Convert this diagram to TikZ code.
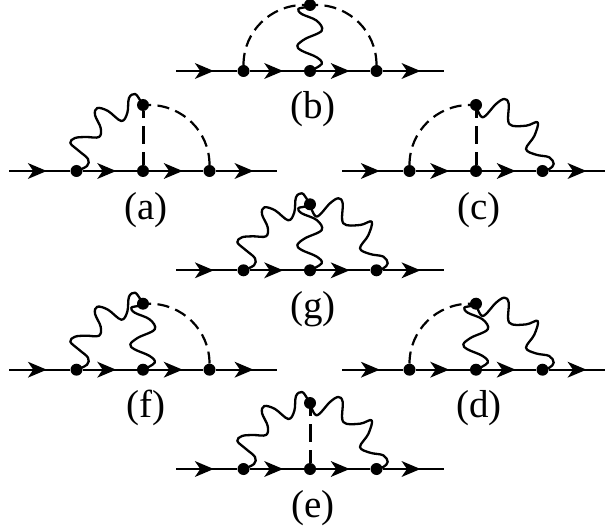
\documentclass[tikz,border=0pt]{standalone}
\usepackage{fontspec}
\setmainfont{Liberation Serif}
\usetikzlibrary{decorations.markings}
\tikzset{
  vertexdot/.style={circle,fill=black,draw=none,inner sep=0pt,minimum size=12pt},
  fermion/.style={line width=2.3pt,postaction={decorate},decoration={markings,mark=at position 0.6 with {\fill[black,draw=none] (1,0) -- (-18,8) -- (-12.5,0) -- (-18,-8) -- cycle;}}},
  scalarline/.style={line width=2.2pt,dash pattern=on 12pt off 6.5pt},
  scalarvert/.style={line width=3pt,dash pattern=on 13pt off 8pt on 18pt off 8pt on 20pt off 8pt},
  wave/.style={line width=2.3pt,line join=round},
  caption/.style={font=\fontsize{39}{42}\selectfont,anchor=base,inner sep=0pt}
}
% #1 prefix, #2 x, #3 y, #4 caption
\newcommand{\feynbase}[4]{%
  \coordinate (#1in) at (#2-134,#3);
  \coordinate (#1out) at (#2+134,#3);
  \node[vertexdot] (#1l) at (#2-66.5,#3) {};
  \node[vertexdot] (#1c) at (#2,#3) {};
  \node[vertexdot] (#1r) at (#2+66.5,#3) {};
  \node[vertexdot] (#1t) at (#2,#3+66) {};
  \draw[fermion] (#1in) -- (#1l);
  \draw[fermion] (#1l) -- (#1c);
  \draw[fermion] (#1c) -- (#1r);
  \draw[fermion] (#1r) -- (#1out);
  \node[caption] (#1cap) at (#2+3,#3-48) {#4};
}
\newcommand{\arcleft}[1]{\draw[scalarline] (#1l) to[out=90,in=180] (#1t);}
\newcommand{\arcright}[1]{\draw[scalarline] (#1r) to[out=90,in=0] (#1t);}
\newcommand{\vertdash}[1]{\draw[scalarvert] (#1c) -- (#1t);}
\newcommand{\waveleft}[1]{\begin{scope}[shift={(#1c)}]\draw[wave] plot[smooth,tension=0.6] coordinates {(-66.5,0) (-56,5) (-55,12) (-64,20) (-72.7,28) (-68,33) (-57,34) (-44,34) (-42.3,43) (-48,56) (-45.7,63) (-35,60) (-21.7,50) (-15.7,58) (-14,73) (-8,77) (-3,71) (0,66)};\end{scope}}
\newcommand{\waveright}[1]{\begin{scope}[shift={(#1c)}]\draw[wave] plot[smooth,tension=0.6] coordinates {(0,66) (6.7,53.7) (20,67) (28.3,72) (32.7,67) (33.3,47) (50,45.3) (61.7,48.7) (58.3,35) (50,22) (60,16.3) (73.3,13.7) (77.7,7) (73.3,2) (66.5,0)};\end{scope}}
\newcommand{\wavemid}[1]{\begin{scope}[shift={(#1c)}]\draw[wave] plot[smooth,tension=0.6] coordinates {(0,0) (11.7,7) (6.7,13.7) (-8.3,20.3) (-12.7,25.3) (-5,32) (11.7,40.3) (6.7,50.3) (-8.3,57) (-11.7,62) (-5,63.7) (0,66)};\end{scope}}
\begin{document}
\begin{tikzpicture}[x=1pt,y=1pt]
\useasboundingbox (0,0) rectangle (605,531);
% (b)
\feynbase{b}{310}{460}{(b)}
\arcleft{b}\arcright{b}\wavemid{b}
% (a)
\feynbase{a}{143}{360}{(a)}
\waveleft{a}\vertdash{a}\arcright{a}
% (c)
\feynbase{k}{476}{360}{(c)}
\arcleft{k}\vertdash{k}\waveright{k}
% (g)
\feynbase{g}{310}{260.7}{(g)}
\waveleft{g}\wavemid{g}\waveright{g}
% (f)
\feynbase{f}{143}{161.3}{(f)}
\waveleft{f}\wavemid{f}\arcright{f}
% (d)
\feynbase{d}{476}{161.3}{(d)}
\arcleft{d}\wavemid{d}\waveright{d}
% (e)
\feynbase{e}{310}{62}{(e)}
\waveleft{e}\vertdash{e}\waveright{e}
\end{tikzpicture}
\end{document}
